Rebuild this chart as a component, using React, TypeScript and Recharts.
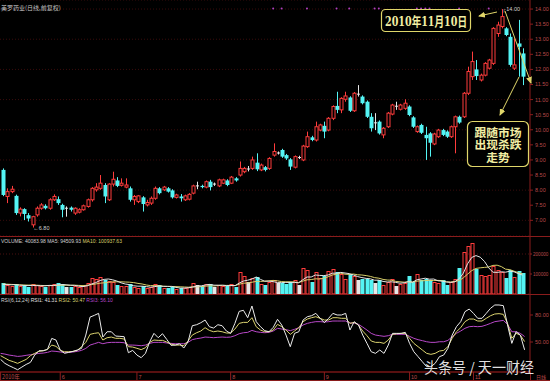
import React from "react";
import {
  Bar,
  CartesianGrid,
  ComposedChart,
  Line,
  ReferenceDot,
  XAxis,
  YAxis,
} from "recharts";

const opens = [
  8.67, 7.79, 7.95, 7.81, 7.24, 7.37, 7.17, 6.85, 7.18, 7.4,
  7.48, 7.4, 7.68, 7.7, 7.51, 7.4, 7.42, 7.24, 7.27, 7.35,
  7.46, 7.68, 8.01, 8.06, 8.17, 7.68, 8.2, 8.32, 8.16, 8.1,
  8.06, 7.68, 7.62, 7.76, 7.51, 7.57, 7.73, 8.06, 8.01, 8.06,
  7.99, 7.76, 7.79, 7.68, 7.7, 7.9, 8.14, 8.14, 8.1, 8.28,
  8.2, 8.14, 8.23, 8.32, 8.23, 8.39, 8.5, 8.61, 8.7, 8.72,
  8.91, 8.67, 8.76, 8.72, 9.16, 9.23, 9.33, 9.16, 9.02, 8.76,
  9.08, 9.0, 9.44, 9.75, 9.66, 9.99, 10.13, 9.99, 10.38, 10.79,
  10.66, 11.01, 11.07, 10.63, 11.18, 11.1, 10.93, 10.43, 10.23, 10.27,
  9.83, 10.1, 10.52, 10.78, 10.68, 10.71, 10.77, 10.41, 9.94, 10.16,
  9.83, 9.88, 9.53, 9.77, 9.99, 9.94, 9.77, 10.1, 10.43, 10.43,
  11.21, 11.76, 12.0, 11.65, 11.81, 12.04, 12.2, 13.19, 13.42, 13.36,
  13.08, 12.04, 12.86, 12.53,
];
const highs = [
  8.72, 8.06, 8.14, 7.85, 7.43, 7.4, 7.24, 7.15, 7.46, 7.57,
  7.53, 7.73, 7.86, 7.79, 7.55, 7.46, 7.46, 7.43, 7.4, 7.52,
  7.72, 8.1, 8.23, 8.5, 8.23, 8.23, 8.61, 8.43, 8.39, 8.39,
  8.12, 7.84, 7.84, 7.8, 7.68, 7.79, 8.12, 8.1, 8.14, 8.1,
  8.03, 7.88, 7.87, 7.85, 7.9, 8.18, 8.28, 8.18, 8.32, 8.34,
  8.25, 8.38, 8.38, 8.36, 8.47, 8.43, 8.95, 8.77, 8.8, 9.11,
  9.22, 8.88, 8.8, 9.09, 9.55, 9.28, 9.37, 9.2, 9.06, 9.15,
  9.14, 9.5, 9.94, 9.8, 10.27, 10.2, 10.27, 10.42, 10.81, 11.26,
  11.08, 11.26, 11.11, 11.25, 11.48, 11.14, 10.97, 10.55, 10.55, 10.31,
  10.09, 10.59, 10.86, 10.93, 10.86, 11.01, 10.81, 10.45, 10.14, 10.2,
  10.1, 9.92, 9.9, 10.03, 10.03, 9.98, 10.14, 10.47, 10.47, 11.25,
  12.09, 12.59, 12.31, 11.86, 12.24, 12.35, 13.4, 13.58, 14.0, 13.4,
  13.19, 13.03, 13.64, 12.7,
];
const lows = [
  7.8, 7.57, 7.9, 7.18, 7.13, 7.01, 6.96, 6.76, 7.12, 7.35,
  7.36, 7.35, 7.64, 7.51, 7.1, 7.12, 7.29, 7.18, 7.23, 7.32,
  7.42, 7.62, 7.95, 8.01, 7.57, 7.64, 8.12, 8.1, 8.12, 8.06,
  7.62, 7.51, 7.57, 7.29, 7.46, 7.51, 7.68, 7.86, 7.97, 7.92,
  7.72, 7.72, 7.62, 7.64, 7.66, 7.86, 8.03, 8.06, 8.06, 7.99,
  8.14, 8.1, 8.2, 8.13, 8.2, 8.28, 8.45, 8.56, 8.62, 8.67,
  8.63, 8.63, 8.62, 8.67, 9.11, 9.18, 9.07, 9.0, 8.67, 8.72,
  9.03, 8.96, 9.4, 9.62, 9.61, 9.95, 9.72, 9.95, 10.32, 10.55,
  10.55, 10.93, 10.59, 10.59, 11.1, 10.84, 10.39, 9.94, 9.99, 9.84,
  9.72, 10.06, 10.48, 10.66, 10.64, 10.66, 10.45, 10.06, 9.9, 9.86,
  9.0, 9.11, 9.49, 9.73, 9.79, 9.73, 9.73, 9.22, 10.2, 10.39,
  11.15, 11.65, 11.65, 11.6, 11.77, 12.0, 12.15, 13.08, 13.36, 13.1,
  12.09, 11.98, 11.76, 11.48,
];
const closes = [
  7.84, 7.95, 8.03, 7.24, 7.37, 7.21, 7.06, 7.12, 7.4, 7.51,
  7.4, 7.68, 7.79, 7.57, 7.35, 7.4, 7.35, 7.4, 7.35, 7.48,
  7.68, 8.06, 8.1, 8.23, 7.79, 8.2, 8.36, 8.14, 8.23, 8.17,
  7.68, 7.79, 7.81, 7.54, 7.59, 7.73, 8.06, 7.9, 8.1, 7.95,
  7.76, 7.84, 7.73, 7.81, 7.86, 8.14, 8.14, 8.1, 8.28, 8.1,
  8.2, 8.34, 8.34, 8.17, 8.43, 8.32, 8.72, 8.72, 8.7, 9.0,
  8.69, 8.83, 8.67, 9.05, 9.28, 9.23, 9.11, 9.05, 8.78, 9.11,
  9.08, 9.46, 9.77, 9.66, 10.1, 10.16, 9.94, 10.38, 10.77, 10.66,
  11.04, 11.12, 10.63, 11.21, 11.18, 10.88, 10.43, 10.05, 10.23, 9.88,
  10.05, 10.55, 10.82, 10.78, 10.82, 10.88, 10.49, 10.1, 10.1, 9.9,
  9.72, 9.57, 9.86, 9.99, 9.83, 9.77, 10.1, 10.43, 10.24, 11.21,
  11.93, 12.26, 11.78, 11.81, 12.2, 12.31, 13.36, 13.47, 13.75, 13.14,
  12.15, 12.15, 12.75, 11.76,
];
const volumes = [
  55000, 45000, 40000, 50000, 40000, 45000, 35000, 50000, 45000, 40000,
  35000, 45000, 50000, 55000, 50000, 35000, 35000, 40000, 35000, 40000,
  55000, 80000, 75000, 85000, 70000, 65000, 60000, 45000, 40000, 40000,
  50000, 35000, 30000, 40000, 30000, 35000, 50000, 45000, 30000, 30000,
  35000, 25000, 30000, 30000, 35000, 55000, 45000, 40000, 50000, 50000,
  35000, 45000, 40000, 40000, 50000, 35000, 110000, 90000, 60000, 80000,
  85000, 50000, 45000, 60000, 70000, 55000, 55000, 50000, 60000, 70000,
  45000, 130000, 120000, 60000, 110000, 80000, 90000, 115000, 125000, 110000,
  100000, 75000, 100000, 90000, 70000, 75000, 75000, 70000, 55000, 70000,
  45000, 60000, 75000, 40000, 50000, 55000, 90000, 60000, 100000, 70000,
  75000, 70000, 60000, 55000, 70000, 45000, 60000, 75000, 130000, 210000,
  240000, 255000, 125000, 95000, 90000, 95000, 140000, 120000, 110000, 80000,
  120000, 85000, 115000, 105000,
];
const volMa5 = [
  48000, 47000, 46000, 47000, 44000, 43000, 42000, 43000, 42000, 41000,
  41000, 43000, 43000, 45000, 47000, 46000, 44000, 43000, 39000, 37000,
  41000, 50000, 57000, 67000, 73000, 75000, 71000, 65000, 56000, 50000,
  47000, 41000, 39000, 39000, 37000, 34000, 37000, 40000, 38000, 38000,
  38000, 33000, 30000, 30000, 31000, 35000, 39000, 41000, 45000, 48000,
  44000, 44000, 44000, 42000, 42000, 42000, 55000, 65000, 69000, 75000,
  85000, 73000, 64000, 64000, 62000, 57000, 57000, 58000, 58000, 58000,
  56000, 71000, 85000, 85000, 95000, 93000, 92000, 95000, 104000, 104000,
  108000, 105000, 102000, 95000, 87000, 82000, 78000, 76000, 69000, 69000,
  63000, 60000, 61000, 58000, 54000, 56000, 62000, 59000, 71000, 75000,
  79000, 74000, 75000, 66000, 64000, 60000, 58000, 61000, 76000, 104000,
  151000, 183000, 192000, 184000, 163000, 131000, 109000, 108000, 111000, 109000,
  114000, 111000, 102000, 94510,
];
const volMa10 = [
  50000, 49000, 48000, 47000, 46000, 45000, 44500, 44500, 44000, 43000,
  42000, 42000, 42500, 43500, 44000, 44000, 43500, 44000, 43000, 42000,
  43500, 47000, 50000, 54000, 56000, 58000, 61000, 61000, 61000, 60000,
  59000, 57000, 53000, 50000, 45000, 42000, 42000, 41000, 39000, 38000,
  37500, 37000, 36000, 35000, 34000, 36000, 36000, 37000, 39000, 41000,
  40000, 42000, 43000, 43000, 43000, 42000, 49000, 54000, 55000, 59000,
  63000, 63000, 64000, 66000, 68000, 66000, 62000, 61000, 61000, 60000,
  57000, 64000, 71000, 72000, 76000, 75000, 79000, 86000, 95000, 99000,
  104000, 99000, 98000, 100000, 96000, 95000, 92000, 88000, 82000, 79000,
  73000, 70000, 69000, 63000, 61000, 59000, 61000, 60000, 64000, 66000,
  67000, 68000, 67000, 68000, 67000, 61000, 60000, 63000, 67000, 81000,
  99000, 117000, 128000, 131000, 133000, 135000, 143000, 144000, 137000, 124000,
  122000, 114000, 107000, 100938,
];
const rsi1 = [
  30.7, 26.3, 23.7, 21.5, 19.2, 22.2, 25.1, 27.4, 35.5, 40.3,
  40.3, 41.8, 54.0, 52.2, 41.1, 37.4, 38.5, 39.6, 41.1, 42.9,
  57.7, 77.7, 79.6, 81.8, 55.5, 61.4, 61.4, 56.6, 56.3, 55.9,
  38.1, 40.7, 35.5, 32.6, 37.4, 50.3, 59.6, 54.8, 59.2, 52.9,
  46.3, 46.6, 48.1, 43.3, 50.3, 68.1, 69.2, 71.4, 74.4, 67.0,
  65.5, 69.2, 68.1, 62.2, 59.6, 70.7, 84.0, 85.2, 77.0, 90.0,
  72.6, 67.0, 62.6, 61.4, 66.3, 75.2, 68.9, 57.7, 44.8, 59.6,
  61.4, 74.4, 78.1, 79.2, 81.8, 76.3, 71.5, 76.3, 81.8, 80.0,
  80.0, 81.8, 63.3, 72.6, 68.9, 57.7, 48.5, 39.2, 37.4, 41.1,
  37.4, 46.6, 59.6, 59.6, 59.6, 60.7, 48.5, 39.2, 33.7, 28.1,
  22.6, 22.6, 26.3, 33.7, 35.5, 42.9, 57.7, 67.0, 72.6, 83.7,
  86.6, 81.8, 76.3, 76.3, 81.8, 87.4, 91.1, 91.1, 90.4, 68.9,
  48.5, 61.4, 57.7, 41.31,
];
const rsi2 = [
  34.8, 32.2, 29.6, 28.1, 26.3, 28.5, 30.7, 34.8, 37.4, 39.6,
  40.3, 41.8, 46.6, 45.2, 40.7, 39.2, 39.2, 39.6, 40.7, 44.8,
  49.6, 58.5, 59.6, 60.3, 52.2, 54.8, 55.5, 54.1, 54.1, 53.3,
  44.8, 44.4, 43.0, 41.5, 43.7, 49.6, 52.2, 51.8, 51.8, 50.0,
  47.7, 46.6, 46.6, 45.9, 51.1, 57.7, 60.3, 62.2, 65.9, 62.9,
  61.4, 62.2, 61.4, 60.0, 60.0, 64.4, 70.7, 71.8, 71.8, 77.0,
  67.0, 63.3, 61.4, 61.4, 63.3, 69.6, 67.0, 63.3, 58.5, 62.2,
  65.9, 72.6, 75.5, 77.0, 78.1, 76.3, 74.4, 74.4, 77.0, 77.0,
  76.3, 76.3, 70.7, 71.8, 68.9, 62.2, 57.0, 51.1, 49.6, 49.6,
  48.5, 52.2, 58.5, 59.2, 59.6, 59.6, 54.1, 48.5, 44.8, 41.1,
  37.4, 36.3, 37.4, 40.0, 40.7, 44.8, 54.1, 61.4, 65.9, 72.6,
  75.5, 75.5, 73.3, 73.3, 76.3, 79.2, 81.1, 81.5, 80.7, 70.7,
  54.1, 59.6, 57.7, 50.47,
];
const rsi3 = [
  37.4, 36.6, 35.5, 34.8, 34.0, 34.4, 35.2, 35.9, 36.6, 37.4,
  37.7, 38.5, 40.0, 39.6, 38.9, 38.5, 38.5, 38.9, 39.6, 40.7,
  42.9, 46.6, 48.1, 49.6, 48.1, 49.2, 49.6, 49.6, 49.6, 49.2,
  46.6, 46.6, 46.3, 45.9, 46.6, 48.5, 49.6, 49.6, 49.6, 48.9,
  48.5, 48.1, 48.1, 48.1, 49.6, 52.6, 53.7, 54.4, 55.5, 55.2,
  54.8, 55.2, 55.5, 55.2, 55.5, 57.0, 59.2, 60.3, 60.7, 62.9,
  61.4, 60.7, 60.3, 60.7, 62.2, 65.2, 64.4, 63.7, 62.6, 64.1,
  65.9, 68.9, 70.7, 71.8, 72.6, 72.6, 72.2, 72.6, 73.3, 73.3,
  73.3, 73.3, 71.1, 71.1, 69.6, 66.6, 63.3, 59.6, 57.7, 57.0,
  56.3, 57.0, 58.5, 58.5, 58.5, 58.5, 56.3, 54.1, 52.6, 51.5,
  50.3, 49.6, 49.6, 50.3, 50.3, 51.8, 55.9, 59.6, 62.2, 65.2,
  67.0, 67.4, 67.0, 67.4, 68.9, 70.7, 72.6, 73.3, 74.0, 69.6,
  61.4, 61.4, 59.6, 56.1,
];

const priceTicks = [7, 7.5, 8, 8.5, 9, 9.5, 10, 10.5, 11, 11.5, 12, 12.5, 13, 13.5, 14];
const volumeTicks = [100000, 200000];
const rsiTicks = [50, 80];
const monthStarts = [0, 14, 32, 54, 76, 96, 111];
const monthNames = ["2010年", "6", "7", "8", "9", "10", "11"];
const infoMarks = [64, 66, 72, 79, 82, 88, 89, 98, 99, 100, 101, 108, 115];

const UP = "#ff3c3c";
const DOWN = "#54f4f4";
const FLAT = "#e6e6e6";
const AXIS = "#8a1c1c";
const AXIS_TEXT = "#b84a4a";
const NOTE = "#f2eea4";
const NOTE_LINE = "#e0d66a";
const SMALL = "'Liberation Sans', Arial, sans-serif";
const CJK = "'Noto Sans CJK SC', sans-serif";

const rows = opens.map((open, i) => ({
  i,
  open,
  high: highs[i],
  low: lows[i],
  close: closes[i],
  range: [lows[i], highs[i]],
  vol: volumes[i],
  ma5: volMa5[i],
  ma10: volMa10[i],
  r1: rsi1[i],
  r2: rsi2[i],
  r3: rsi3[i],
}));

type Row = (typeof rows)[number];

const tone = (d: Row) => (d.close > d.open ? UP : d.close < d.open ? DOWN : FLAT);

// candle drawn inside the [low, high] bar that recharts positions for us
function Candle(props: any) {
  const { x, y, width, height, payload } = props;
  if (!payload || width == null) return null;
  const d = payload as Row;
  const top = Math.min(y, y + height);
  const bot = Math.max(y, y + height);
  const span = d.high - d.low || 1;
  const py = (p: number) => top + ((d.high - p) / span) * (bot - top);
  const cx = Math.round(x + width / 2) + 0.5;
  const c = tone(d);
  const bTop = py(Math.max(d.open, d.close));
  const bBot = py(Math.min(d.open, d.close));
  if (c === FLAT) {
    return (
      <g>
        <line x1={cx} x2={cx} y1={top} y2={bot} stroke={c} />
        <line x1={cx - 1.5} x2={cx + 1.5} y1={bTop} y2={bTop} stroke={c} />
      </g>
    );
  }
  if (c === UP) {
    return (
      <g>
        <line x1={cx} x2={cx} y1={top} y2={bTop} stroke={c} />
        <line x1={cx} x2={cx} y1={bBot} y2={bot} stroke={c} />
        <rect x={cx - 1.5} y={bTop} width={3} height={Math.max(bBot - bTop, 1)} fill="#000" stroke={c} strokeWidth={1} />
      </g>
    );
  }
  return (
    <g>
      <line x1={cx} x2={cx} y1={top} y2={bot} stroke={c} />
      <rect x={cx - 2} y={bTop} width={4} height={Math.max(bBot - bTop, 1)} fill={c} />
    </g>
  );
}

function VolumeBar(props: any) {
  const { x, y, width, height, payload } = props;
  if (!payload || !height) return null;
  const c = tone(payload as Row);
  const cx = Math.round(x + width / 2) + 0.5;
  if (c === UP) {
    return <rect x={cx - 1.5} y={y + 0.5} width={3} height={Math.max(height - 0.5, 0)} fill="none" stroke={UP} />;
  }
  return <rect x={cx - 2} y={y} width={4} height={height} fill={c} />;
}

function MonthTick(props: any) {
  const { x, y, payload } = props;
  const k = monthStarts.indexOf(payload.value);
  return (
    <g>
      <line x1={x} x2={x} y1={y} y2={y + 8} stroke={AXIS} />
      <text x={x + 1.5} y={y + 6.5} fontSize={5.5} fontFamily={k === 0 ? CJK : SMALL} fill={AXIS_TEXT}>
        {monthNames[k]}
      </text>
    </g>
  );
}

const xPad = { left: 0.6, right: 5.4 };
const axisTick = { fill: AXIS_TEXT, fontSize: 5.5, fontFamily: SMALL };
const volTick = { fill: AXIS_TEXT, fontSize: 4.6, fontFamily: SMALL };

export default function App() {
  return (
    <div style={{ position: "absolute", left: 0, top: 0, width: 550, height: 381, background: "#000", overflow: "hidden" }}>
      <div style={{ position: "absolute", left: 0, top: 0 }}>
        <ComposedChart width={550} height={236} data={rows} margin={{ top: 0, right: 0, bottom: 0, left: 0 }} barSize={3}>
          <CartesianGrid vertical={false} stroke="#3a0c0c" strokeDasharray="1 2" />
          <XAxis dataKey="i" hide padding={xPad} />
          <YAxis
            orientation="right"
            width={20}
            domain={[6.48, 14.3]}
            allowDataOverflow
            ticks={priceTicks}
            tickFormatter={(v: number) => v.toFixed(2)}
            tick={axisTick}
            tickSize={3}
            tickMargin={2}
            tickLine={{ stroke: AXIS }}
            axisLine={{ stroke: AXIS }}
          />
          <Bar dataKey="range" shape={Candle} isAnimationActive={false} />
          {infoMarks.map((k) => (
            <ReferenceDot key={k} x={k} y={14.02} r={1} fill="#b040c0" stroke="none" />
          ))}
          <ReferenceDot
            x={118}
            y={14.0}
            r={0}
            label={{ value: "┌14.00", position: "right", offset: 1, fill: "#cfcfcf", fontSize: 5.5, fontFamily: SMALL }}
          />
          <ReferenceDot
            x={7}
            y={6.76}
            r={0}
            label={{ value: "←6.80", position: "right", offset: 1, fill: "#cfcfcf", fontSize: 5.5, fontFamily: SMALL }}
          />
        </ComposedChart>
      </div>

      <div style={{ position: "absolute", left: 0, top: 236 }}>
        <ComposedChart width={550} height={58} data={rows} margin={{ top: 0, right: 0, bottom: 0, left: 0 }} barSize={3}>
          <CartesianGrid vertical={false} stroke="#4a1010" strokeDasharray="1 2" />
          <XAxis dataKey="i" hide padding={xPad} />
          <YAxis
            orientation="right"
            width={20}
            domain={[0, 290000]}
            allowDataOverflow
            ticks={volumeTicks}
            tick={volTick}
            tickSize={2}
            tickMargin={1}
            tickLine={{ stroke: AXIS }}
            axisLine={{ stroke: AXIS }}
          />
          <Bar dataKey="vol" shape={VolumeBar} isAnimationActive={false} />
          <Line dataKey="ma10" stroke="#d8cf6a" strokeWidth={1} dot={false} isAnimationActive={false} />
          <Line dataKey="ma5" stroke="#e4e4e4" strokeWidth={1} dot={false} isAnimationActive={false} />
        </ComposedChart>
      </div>

      <div style={{ position: "absolute", left: 0, top: 295 }}>
        <ComposedChart width={550} height={86} data={rows} margin={{ top: 0, right: 0, bottom: 0, left: 0 }}>
          <XAxis
            dataKey="i"
            height={9}
            padding={xPad}
            ticks={monthStarts}
            interval={0}
            tick={MonthTick}
            tickSize={0}
            tickMargin={0}
            tickLine={false}
            axisLine={{ stroke: "#b02020" }}
          />
          <YAxis
            orientation="right"
            width={20}
            domain={[16.7, 102.2]}
            allowDataOverflow
            ticks={rsiTicks}
            tickFormatter={(v: number) => v.toFixed(2)}
            tick={axisTick}
            tickSize={3}
            tickMargin={2}
            tickLine={{ stroke: AXIS }}
            axisLine={{ stroke: AXIS }}
          />
          <Line dataKey="r3" stroke="#b848c8" strokeWidth={1} dot={false} isAnimationActive={false} />
          <Line dataKey="r2" stroke="#dcd470" strokeWidth={1} dot={false} isAnimationActive={false} />
          <Line dataKey="r1" stroke="#ececec" strokeWidth={1} dot={false} isAnimationActive={false} />
        </ComposedChart>
      </div>

      <svg width={550} height={381} style={{ position: "absolute", left: 0, top: 0, pointerEvents: "none" }}>
        <defs>
          <marker id="head" markerWidth={7} markerHeight={6} refX={6} refY={3} orient="auto" markerUnits="userSpaceOnUse">
            <path d="M0,0 L7,3 L0,6 z" fill={NOTE_LINE} />
          </marker>
        </defs>
        <line x1={0} x2={550} y1={236.5} y2={236.5} stroke={AXIS} />
        <line x1={0} x2={550} y1={294.5} y2={294.5} stroke={AXIS} />
        <line x1={0} x2={550} y1={380.5} y2={380.5} stroke={AXIS} />
        <line x1={530.5} x2={530.5} y1={372} y2={381} stroke={AXIS} />

        <text x={1} y={10} fontSize={6} fontFamily={CJK} fill="#c6c6c6">美罗药业(日线,前复权)</text>
        <text x={1} y={243} fontSize={5} fontFamily={SMALL}>
          <tspan fill="#d0d0d0">VOLUME: 40083.98 </tspan>
          <tspan fill="#d0d0d0"> MA5: 94509.93 </tspan>
          <tspan fill="#d8cf6a"> MA10: 100937.63</tspan>
        </text>
        <text x={1} y={302} fontSize={5} fontFamily={SMALL}>
          <tspan fill="#d0d0d0">RSI(6,12,24) </tspan>
          <tspan fill="#e0e0e0">RSI1: 41.31 </tspan>
          <tspan fill="#dcd470">RSI2: 50.47 </tspan>
          <tspan fill="#b848c8">RSI3: 56.10</tspan>
        </text>
        <text x={536} y={379} fontSize={5} fontFamily={CJK} fill={AXIS_TEXT}>日线</text>

        <rect x={381.5} y={9.5} width={89} height={22} rx={4} fill="#000" stroke={NOTE_LINE} strokeWidth={1.2} />
        <text x={426} y={26} textAnchor="middle" fontSize={13} fontWeight="bold" fontFamily={"'DejaVu Serif', 'Noto Sans CJK SC', serif"} fill={NOTE} textLength={82} lengthAdjust="spacingAndGlyphs">
          2010年11月10日
        </text>
        <line x1={497} y1={12} x2={479} y2={16} stroke={NOTE_LINE} strokeWidth={1} markerEnd="url(#head)" />
        <line x1={505} y1={11} x2={531} y2={83} stroke={NOTE_LINE} strokeWidth={1} markerEnd="url(#head)" />
        <line x1={519} y1={77} x2={500} y2={115} stroke={NOTE_LINE} strokeWidth={1} markerEnd="url(#head)" />

        <rect x={467.5} y={121.5} width={61} height={45} rx={5} fill="#000" stroke={NOTE_LINE} strokeWidth={1.2} />
        <g fontSize={11.8} fontWeight="bold" fontFamily={CJK} fill={NOTE} textAnchor="middle">
          <text x={498} y={136.5}>跟随市场</text>
          <text x={498} y={149}>出现杀跌</text>
          <text x={498} y={161.5}>走势</text>
        </g>

        <text x={424} y={373} fontSize={14.5} fontFamily={CJK} fill="rgba(255,255,255,0.88)" textLength={110} lengthAdjust="spacingAndGlyphs">
          头条号 / 天一财经
        </text>
      </svg>
    </div>
  );
}
